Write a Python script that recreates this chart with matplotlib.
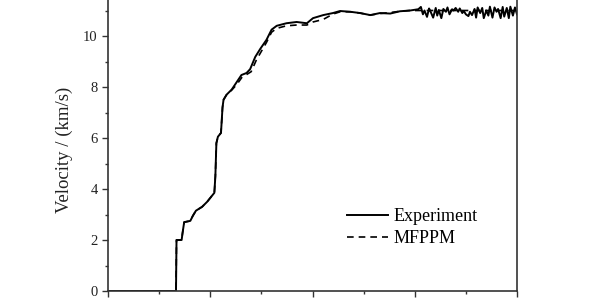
import matplotlib.pyplot as plt
from matplotlib.ticker import MultipleLocator, FixedLocator

plt.rcParams['font.family'] = ['Liberation Serif', 'DejaVu Serif']

# experiment curve (x in axis units, velocity in km/s)
exp_x = [0.0, 1.33, 1.34, 1.44, 1.46, 1.49, 1.61, 1.66, 1.72, 1.84, 1.94, 2.04, 2.08,
         2.10, 2.12, 2.15, 2.21, 2.24, 2.26, 2.32, 2.42, 2.52, 2.61, 2.71, 2.78, 2.88,
         2.98, 3.10, 3.20, 3.30, 3.49, 3.69, 3.89, 4.01, 4.21, 4.40, 4.54, 4.74, 4.93,
         5.13, 5.32, 5.52, 5.71, 5.91, 6.07,
         6.12, 6.16, 6.19, 6.24, 6.28, 6.30, 6.36, 6.41, 6.44, 6.47, 6.52, 6.56, 6.61,
         6.64, 6.68, 6.73, 6.76, 6.80, 6.85, 6.88, 6.93, 6.96, 7.00, 7.05, 7.08, 7.12,
         7.17, 7.20, 7.23, 7.28, 7.32, 7.35, 7.40, 7.44, 7.47, 7.52, 7.56, 7.60, 7.63,
         7.68, 7.72, 7.75, 7.80, 7.84, 7.87, 7.92, 7.96, 8.0]
exp_y = [0.0, 0.0, 2.0, 2.0, 2.3, 2.7, 2.75, 2.95, 3.15, 3.3, 3.5, 3.75, 3.85,
         4.5, 5.8, 6.05, 6.2, 7.2, 7.5, 7.7, 7.9, 8.2, 8.47, 8.55, 8.7, 9.18,
         9.5, 9.85, 10.25, 10.4, 10.5, 10.55, 10.5, 10.7, 10.82, 10.9, 10.98, 10.95, 10.9,
         10.82, 10.9, 10.88, 10.97, 11.0, 11.05,
         11.14, 10.85, 11.0, 10.75, 11.08, 11.0, 10.72, 11.1, 10.8, 11.02, 10.7, 11.06, 10.95,
         11.12, 10.85, 11.05, 11.0, 11.1, 10.95, 11.08, 10.9, 10.98, 10.85, 10.78, 10.95, 10.82,
         11.06, 10.72, 11.12, 10.9, 11.1, 10.7, 11.0, 10.8, 11.15, 10.72, 11.12, 10.95, 11.06,
         10.7, 11.14, 10.76, 11.1, 10.7, 11.15, 10.8, 11.12, 10.85]

# MFPPM simulation
sim_x = [0.0, 1.33, 1.34, 1.44, 1.46, 1.49, 1.61, 1.66, 1.72, 1.84, 1.94, 2.04, 2.08,
         2.10, 2.12, 2.15, 2.21, 2.24, 2.26, 2.32, 2.42, 2.52, 2.62, 2.72, 2.80, 2.90,
         3.00, 3.10, 3.20, 3.30, 3.49, 3.69, 3.89, 4.01, 4.21, 4.40, 4.54, 4.74, 4.93,
         5.13, 5.32, 5.52, 5.71, 5.91, 6.10, 6.50, 7.00, 7.50, 8.0]
sim_y = [0.0, 0.0, 2.0, 2.0, 2.3, 2.7, 2.75, 2.95, 3.15, 3.3, 3.5, 3.75, 3.85,
         4.5, 5.8, 6.05, 6.2, 7.2, 7.5, 7.7, 7.88, 8.1, 8.38, 8.5, 8.6, 9.05,
         9.4, 9.75, 10.15, 10.3, 10.4, 10.43, 10.43, 10.55, 10.65, 10.86, 10.95, 10.95, 10.9,
         10.82, 10.88, 10.92, 10.97, 11.0, 11.0, 11.0, 11.0, 11.0, 11.0]

y_ticks = [0, 2, 4, 6, 8, 10]

fig = plt.figure(figsize=(6, 3), dpi=100)
ax = fig.add_axes([108 / 600, 9 / 300, 409 / 600, 306 / 300])

ax.plot(exp_x, exp_y, color='black', lw=1.4, label='Experiment')
ax.plot(sim_x, sim_y, color='black', lw=1.2, ls=(0, (4, 3)), label='MFPPM')

ax.set_xlim(0, 8)
ax.set_ylim(0, 12)
ax.xaxis.set_major_locator(MultipleLocator(2))
ax.xaxis.set_minor_locator(MultipleLocator(1))
ax.yaxis.set_major_locator(FixedLocator(y_ticks))
ax.yaxis.set_minor_locator(MultipleLocator(1))
ax.tick_params(which='both', direction='out', width=1, colors='#333333', labelsize=10.5)
ax.tick_params(which='major', length=4)
ax.tick_params(which='minor', length=2.5)
ax.tick_params(axis='y', labelcolor='#222222')
ax.tick_params(axis='x', labelbottom=False)
for s in ax.spines.values():
    s.set_linewidth(1.2)
    s.set_color('#333333')

ax.set_ylabel('Velocity / (km/s)', fontsize=13.5, color='#222222')
ax.yaxis.set_label_coords(-0.0856, (291 - 150) / 306)
ax.legend(loc='upper left', bbox_to_anchor=(347 / 600, 1 - 208 / 300),
          bbox_transform=fig.transFigure, frameon=False, fontsize=13,
          handlelength=2.27, handletextpad=0.3, labelspacing=0.3,
          borderpad=0, borderaxespad=0)

fig.savefig('out.png', dpi=100)
